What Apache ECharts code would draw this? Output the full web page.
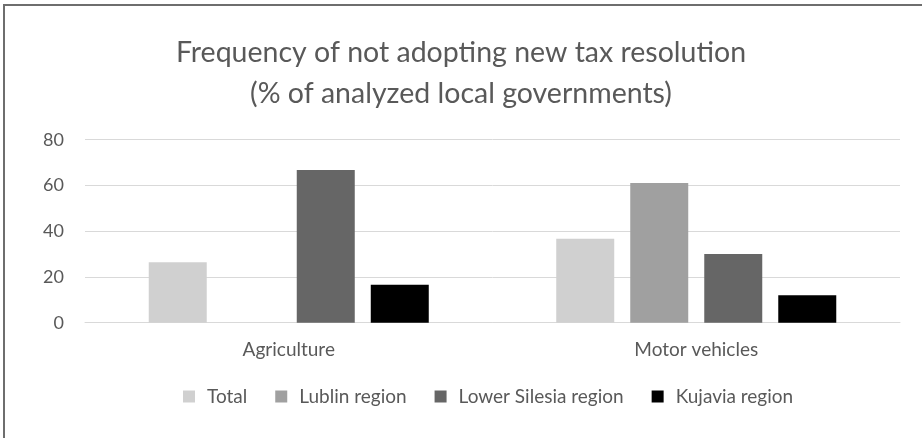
<!DOCTYPE html>
<html>
<head>
<meta charset="utf-8">
<script src="https://cdn.jsdelivr.net/npm/echarts@6/dist/echarts.min.js"></script>
<style>html,body{margin:0;padding:0;background:#fff;}#c{width:922px;height:438px;}</style>
</head>
<body>
<div id="c"></div>
<script>
const categories = ['Agriculture', 'Motor vehicles'];
const seriesNames = ['Total', 'Lublin region', 'Lower Silesia region', 'Kujavia region'];
const total = [26.4, 36.7];
const lublin = [0, 61.1];
const lowerSilesia = [66.7, 30.0];
const kujavia = [16.6, 12.0];
const yTicks = [0, 20, 40, 60, 80];
const colors = ['#d0d0d0', '#a0a0a0', '#666666', '#000000'];
const values = [total, lublin, lowerSilesia, kujavia];

const font = 'Lato, "Open Sans", sans-serif';
const chart = echarts.init(document.getElementById('c'));
chart.setOption({
  animation: false,
  title: {
    text: 'Frequency of not adopting new tax resolution\n(% of analyzed local governments)',
    left: 'center',
    top: 27,
    textStyle: { fontFamily: font, fontSize: 28.5, fontWeight: 'normal', color: '#595959', lineHeight: 41 }
  },
  graphic: [{
    type: 'rect', silent: true,
    shape: { x: 4, y: 5, width: 2000, height: 2000 },
    style: { fill: 'none', stroke: '#6e6e6e', lineWidth: 2 }
  }],
  legend: {
    left: 178, top: 382,
    itemWidth: 12, itemHeight: 12, itemGap: 28,
    icon: 'rect',
    textStyle: { fontFamily: font, fontSize: 19, color: '#595959', padding: [0, 0, 0, 7] },
    data: seriesNames
  },
  grid: { left: 85, right: 22, top: 139.7, bottom: 115.3, containLabel: false },
  xAxis: {
    type: 'category', data: categories,
    axisLine: { show: true, lineStyle: { color: '#d9d9d9', width: 1 } },
    axisTick: { show: false },
    axisLabel: { fontFamily: font, fontSize: 19, color: '#595959', margin: 18 }
  },
  yAxis: {
    type: 'value', min: yTicks[0], max: yTicks[yTicks.length - 1], interval: 20,
    axisLine: { show: false }, axisTick: { show: false },
    axisLabel: { fontFamily: font, fontSize: 18, color: '#595959', margin: 21 },
    splitLine: { lineStyle: { color: '#d9d9d9', width: 1 } }
  },
  series: seriesNames.map((n, i) => ({
    name: n, type: 'bar', data: values[i],
    barWidth: 58, barGap: '27.6%',
    itemStyle: { color: colors[i] }
  }))
});
</script>
</body>
</html>
